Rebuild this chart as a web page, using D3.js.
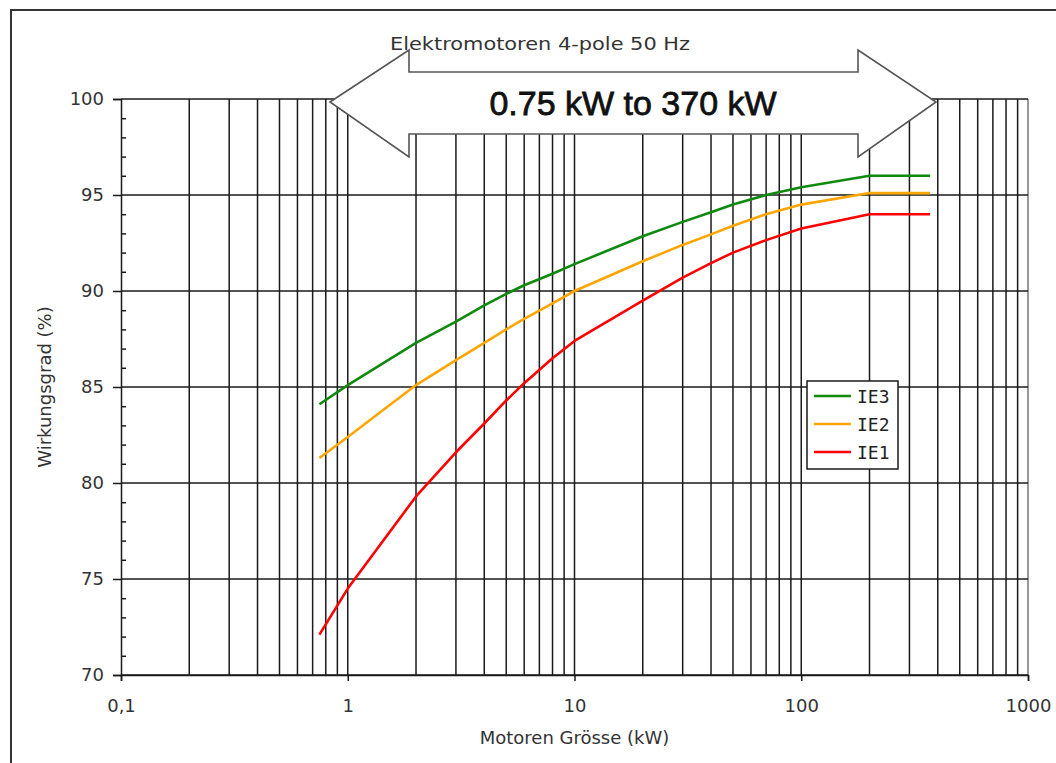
<!DOCTYPE html>
<html>
<head>
<meta charset="utf-8">
<script src="https://cdn.jsdelivr.net/npm/d3@7"></script>
<style>
  html, body { margin: 0; padding: 0; background: #fff; }
  svg { display: block; }
</style>
</head>
<body>
<svg id="chart" width="1056" height="763"></svg>
<script>
// ---- data ----
const sizesKW = [0.75, 1, 2, 3, 4, 5, 6, 8, 10, 20, 30, 40, 50, 70, 100, 200, 370];
const ie3 = [84.1, 85.1, 87.3, 88.4, 89.25, 89.85, 90.3, 90.9, 91.4, 92.85, 93.6, 94.1, 94.5, 95.0, 95.4, 96.0, 96.0];
const ie2 = [81.3, 82.4, 85.1, 86.4, 87.3, 88.0, 88.55, 89.35, 90.0, 91.55, 92.4, 92.95, 93.4, 94.0, 94.5, 95.1, 95.1];
const ie1 = [72.1, 74.5, 79.3, 81.6, 83.1, 84.3, 85.2, 86.5, 87.4, 89.5, 90.7, 91.45, 92.0, 92.65, 93.25, 94.0, 94.0];
const seriesNames = ["IE3", "IE2", "IE1"];
const xTickValues = [0.1, 1, 10, 100, 1000];
const xTickLabels = ["0,1", "1", "10", "100", "1000"];
const yTickValues = [70, 75, 80, 85, 90, 95, 100];
const titleText = "Elektromotoren 4-pole 50 Hz";
const rangeText = "0.75 kW to 370 kW";
const xTitle = "Motoren Grösse (kW)";
const yTitle = "Wirkungsgrad (%)";

const colors = { IE3: "#0f8a0f", IE2: "#ffa500", IE1: "#ff0000" };
const seriesData = { IE3: ie3, IE2: ie2, IE1: ie1 };

const svg = d3.select("#chart");
const pLeft = 121, pRight = 1028, pTop = 99, pBottom = 675;

const x = d3.scaleLog().domain([0.1, 1000]).range([pLeft, pRight]);
const y = d3.scaleLinear().domain([70, 100]).range([pBottom, pTop]);

// outer frame
svg.append("path")
  .attr("d", `M11,763 L11,10 L1056,10`)
  .attr("fill", "none").attr("stroke", "#333").attr("stroke-width", 2);

// vertical grid lines (log)
const gridX = x.ticks().filter(v => v > 0.1);
svg.append("g").selectAll("line").data(gridX).join("line")
  .attr("x1", d => x(d)).attr("x2", d => x(d))
  .attr("y1", pTop).attr("y2", pBottom)
  .attr("stroke", d => d >= 999 ? "#777" : "#1a1a1a").attr("stroke-width", 1.5);

// horizontal grid lines
svg.append("g").selectAll("line").data(yTickValues).join("line")
  .attr("x1", pLeft).attr("x2", pRight)
  .attr("y1", d => y(d)).attr("y2", d => y(d))
  .attr("stroke", "#1a1a1a").attr("stroke-width", 1.5);

// y axis
svg.append("g").attr("transform", `translate(${pLeft},0)`)
  .call(d3.axisLeft(y).tickValues(yTickValues).tickSize(8).tickPadding(9).tickFormat(d3.format("d")));
// minor ticks (inside)
svg.append("g").attr("transform", `translate(${pLeft},0)`)
  .call(d3.axisRight(y).tickValues(d3.range(70, 100, 1).filter(v => v % 5 !== 0)).tickSize(5).tickFormat(""))
  .call(g => g.select(".domain").remove());

// x axis
svg.append("g").attr("transform", `translate(0,${pBottom})`)
  .call(d3.axisBottom(x).tickValues(xTickValues).tickSize(6).tickPadding(18)
    .tickFormat((d, i) => xTickLabels[i]));

svg.selectAll(".domain").attr("stroke", "#1a1a1a").attr("stroke-width", 1.5);
svg.selectAll(".tick line").attr("stroke", "#1a1a1a").attr("stroke-width", 1.5);
svg.selectAll(".tick text").attr("fill", "#333").style("font-family", "DejaVu Sans, Verdana, sans-serif").style("font-size", "18px");

// series lines
const line = d3.line().x((d, i) => x(sizesKW[i])).y(d => y(d));
seriesNames.forEach(name => {
  svg.append("path")
    .datum(seriesData[name])
    .attr("d", line)
    .attr("fill", "none")
    .attr("stroke", colors[name])
    .attr("stroke-width", 2.6)
    .attr("stroke-linejoin", "round");
});

// double arrow
const ax0 = 330, ax1 = 409, ax2 = 858, ax3 = 936, ayMid = 102, ayHT = 50, ayHB = 157, aySt = 72, aySb = 134;
svg.append("path")
  .attr("d", `M${ax0},${ayMid} L${ax1},${ayHT} L${ax1},${aySt} L${ax2},${aySt} L${ax2},${ayHT} L${ax3},${ayMid} L${ax2},${ayHB} L${ax2},${aySb} L${ax1},${aySb} L${ax1},${ayHB} Z`)
  .attr("fill", "#fff").attr("stroke", "#555").attr("stroke-width", 1.6).attr("stroke-linejoin", "miter");

svg.append("text")
  .attr("x", 390).attr("y", 50)
  .style("font-family", "DejaVu Sans, Verdana, sans-serif").style("font-size", "17px")
  .attr("fill", "#333")
  .attr("textLength", 300).attr("lengthAdjust", "spacingAndGlyphs")
  .text(titleText);

svg.append("text")
  .attr("x", 633).attr("y", 115)
  .attr("text-anchor", "middle")
  .style("font-family", "Liberation Sans, Arial, sans-serif").style("font-size", "34px")
  .attr("fill", "#111").attr("stroke", "#111").attr("stroke-width", 0.8)
  .text(rangeText);

// axis titles
svg.append("text")
  .attr("x", (pLeft + pRight) / 2).attr("y", 744)
  .attr("text-anchor", "middle")
  .style("font-family", "DejaVu Sans, Verdana, sans-serif").style("font-size", "18px")
  .attr("fill", "#333")
  .text(xTitle);

svg.append("text")
  .attr("transform", `translate(51,${(pTop + pBottom) / 2}) rotate(-90)`)
  .attr("text-anchor", "middle")
  .style("font-family", "DejaVu Sans, Verdana, sans-serif").style("font-size", "18px")
  .attr("fill", "#333")
  .text(yTitle);

// legend
const lg = svg.append("g");
lg.append("rect").attr("x", 807).attr("y", 381).attr("width", 91).attr("height", 88)
  .attr("fill", "#fff").attr("stroke", "#1a1a1a").attr("stroke-width", 1.5);
const legY = d3.scalePoint().domain(seriesNames).range([396, 452]);
seriesNames.forEach(name => {
  lg.append("line").attr("x1", 814).attr("x2", 851)
    .attr("y1", legY(name)).attr("y2", legY(name))
    .attr("stroke", colors[name]).attr("stroke-width", 2.6);
  lg.append("text").attr("x", 857).attr("y", legY(name) + 7)
    .style("font-family", "DejaVu Sans Mono, Liberation Mono, monospace").style("font-size", "18px")
    .attr("fill", "#222")
    .text(name);
});
</script>
</body>
</html>
